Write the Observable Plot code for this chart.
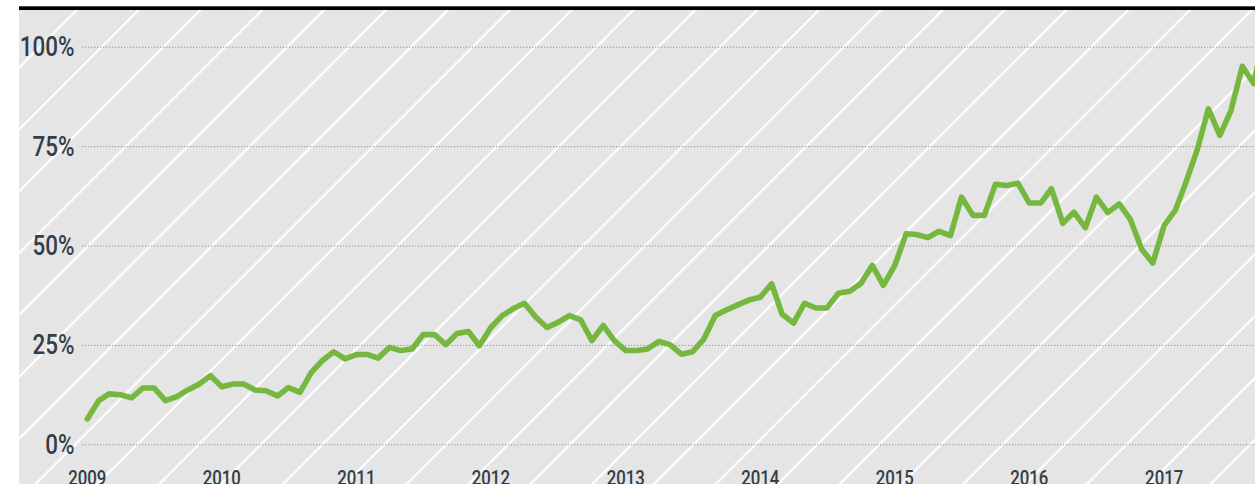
<!DOCTYPE html>
<html>
<head>
<meta charset="utf-8">
<script src="https://cdn.jsdelivr.net/npm/d3@7"></script>
<script src="https://cdn.jsdelivr.net/npm/@observablehq/plot@0.6"></script>
<style>
  html, body { margin: 0; padding: 0; background: #fff; overflow: hidden; }
  #chart svg { display: block; }
</style>
</head>
<body>
<div id="chart"></div>
<script>
// ---- Data (monthly, starting January 2009), percent ----
const startYear = 2009;
const values = [
  6.5, 11.1, 12.8, 12.6, 11.8, 14.3, 14.3, 11.1, 12.1, 13.8, 15.3, 17.4,
  14.6, 15.3, 15.3, 13.8, 13.6, 12.3, 14.4, 13.2, 18.2, 21.2, 23.4, 21.6,
  22.7, 22.7, 21.8, 24.5, 23.7, 24.1, 27.7, 27.7, 25.2, 28.0, 28.5, 24.9,
  29.5, 32.5, 34.2, 35.6, 32.2, 29.5, 30.8, 32.5, 31.4, 26.2, 30.0, 26.2,
  23.7, 23.7, 24.1, 26.0, 25.2, 22.8, 23.4, 26.6, 32.5, 33.9, 35.2, 36.4,
  37.1, 40.5, 32.9, 30.6, 35.6, 34.4, 34.4, 38.1, 38.6, 40.6, 45.1, 40.1,
  45.1, 53.1, 52.9, 52.1, 53.7, 52.6, 62.3, 57.7, 57.7, 65.5, 65.2, 65.8,
  60.8, 60.8, 64.4, 55.7, 58.5, 54.6, 62.3, 58.4, 60.6, 56.7, 49.2, 45.7,
  55.2, 59.1, 66.0, 74.3, 84.5, 77.8, 84.0, 95.2, 90.9, 104
];
const yTicks = [0, 25, 50, 75, 100];
const yearLabels = [2009, 2010, 2011, 2012, 2013, 2014, 2015, 2016, 2017];

const data = values.map((v, i) => ({
  date: new Date(Date.UTC(startYear, i, 1)),
  value: v
}));

const W = 1255, H = 484;
const textColor = "#333e48";
const font = "Roboto, 'DejaVu Sans Condensed', sans-serif";

const chart = Plot.plot({
  width: W,
  height: H,
  marginLeft: 82,
  marginRight: 0,
  marginTop: 0,
  marginBottom: 0,
  style: { background: "transparent", fontFamily: font, overflow: "hidden" },
  x: { type: "utc", domain: [new Date(Date.UTC(2009, 0, 1)), new Date(Date.UTC(2018, 0, 1))], range: [86.8, 86.8 + 9 * 134.6], axis: null },
  y: { domain: [0, 100], range: [444.3, 46.7], axis: null },
  marks: [
    Plot.ruleY(yTicks, { stroke: "#979797", strokeWidth: 1, strokeDasharray: "1.3 1.7" }),
    Plot.text(yTicks, {
      y: d => d, text: d => `${d}%`, frameAnchor: "left", textAnchor: "end",
      lineAnchor: "middle", dx: -8, fontSize: 28, fontWeight: 500, fill: textColor
    }),
    Plot.text(yearLabels, {
      x: d => new Date(Date.UTC(d, 0, 1)), text: d => String(d), frameAnchor: "bottom",
      lineAnchor: "middle", dy: -6, fontSize: 21, fontWeight: 500, fill: textColor
    }),
    Plot.line(data, {
      x: "date", y: "value", stroke: "#76b83f", strokeWidth: 5.6, clip: true,
      strokeLinejoin: "round", strokeLinecap: "round"
    })
  ]
});

// Decorative background: light grey panel with white diagonal hatching + black top rule
const svg = d3.select(chart);
const defs = svg.insert("defs", ":first-child");
const P = 61.85, c0 = 24.85;
const pat = defs.append("pattern")
  .attr("id", "hatch")
  .attr("patternUnits", "userSpaceOnUse")
  .attr("x", 0).attr("y", 0)
  .attr("width", P).attr("height", P);
pat.append("rect").attr("width", P).attr("height", P).attr("fill", "#e5e5e5");
let dPath = "";
for (const c of [c0 - P, c0, c0 + P]) {
  dPath += `M${-10},${c + 10}L${P + 10},${c - P - 10}`;
}
pat.append("path").attr("d", dPath).attr("stroke", "#ffffff").attr("stroke-width", 2.2).attr("fill", "none");

const bg = svg.insert("g", "defs + *");
bg.append("rect").attr("x", 19).attr("y", 10).attr("width", W - 19).attr("height", H - 10).attr("fill", "url(#hatch)");
bg.append("rect").attr("x", 19).attr("y", 6.3).attr("width", W - 19).attr("height", 3.7).attr("fill", "#000");

document.getElementById("chart").appendChild(chart);

// Condense the label glyphs horizontally to mimic the reference's narrow typeface
svg.selectAll("text").each(function () {
  const len = this.getComputedTextLength();
  if (len > 0) {
    this.setAttribute("textLength", (len * 0.8).toFixed(2));
    this.setAttribute("lengthAdjust", "spacingAndGlyphs");
  }
});
</script>
</body>
</html>
